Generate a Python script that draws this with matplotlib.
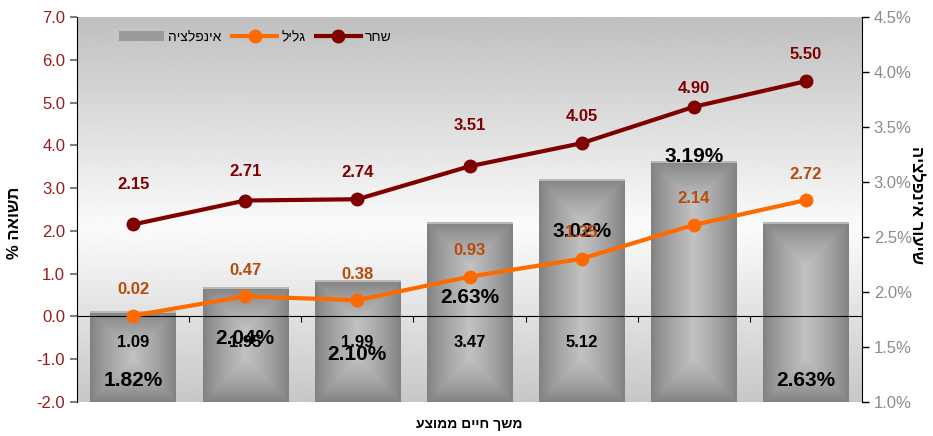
import numpy as np
import matplotlib
matplotlib.use('Agg')
import matplotlib.pyplot as plt
from matplotlib.patches import Patch
from matplotlib.lines import Line2D

plt.rcParams['font.family'] = ['Liberation Sans', 'DejaVu Sans']


def rtl(s):
    # matplotlib has no bidi, so hebrew has to be flipped by hand
    return s[::-1]


durations = ['1.09', '1.95', '1.99', '3.47', '5.12', '', '']
inflation = [1.82, 2.04, 2.10, 2.63, 3.02, 3.19, 2.63]
shahar = [2.15, 2.71, 2.74, 3.51, 4.05, 4.90, 5.50]
galil = [0.02, 0.47, 0.38, 0.93, 1.35, 2.14, 2.72]

# label placement as in the original excel chart
infl_label_y = [1.20, 1.58, 1.43, 1.95, 2.55, 3.23, 1.20]
shahar_label_dy = [40, 29, 27, 41, 27, 18, 27]
galil_label_dy = 26

RED = '#800000'
ORANGE = '#ff6a00'

fig = plt.figure(figsize=(9.33, 4.36), dpi=100)
ax = fig.add_axes([77 / 933, 34 / 436, 785 / 933, 385 / 436])
ax2 = ax.twinx()
ax.set_zorder(ax2.get_zorder() + 1)
ax.patch.set_visible(False)

x = np.arange(len(inflation))
ymin2, ymax2 = 1.0, 4.5

# background gradient: grey top, almost white in the middle, grey bottom
yy = np.linspace(0, 1, 300)
shade = np.interp(yy, [0, 0.45, 1], [0.78, 0.985, 0.75])
ax2.imshow(shade[:, None], extent=[0, 1, 0, 1], transform=ax2.transAxes, origin='lower',
           aspect='auto', cmap='gray', vmin=0, vmax=1, zorder=0)

# bars with a rectangular "from center" gradient
w = 0.76
px_per_unit = 385 / (ymax2 - ymin2)
nx = 85
for xi, v in zip(x, inflation):
    ny = max(int(round((v - ymin2) * px_per_unit)), 2)
    cx = np.arange(nx) + 0.5
    cy = np.arange(ny) + 0.5
    dx = np.minimum(cx, nx - cx)
    dy = np.minimum(cy, ny - cy)
    d = np.clip(np.minimum(dx[None, :], dy[:, None]) / (nx / 2), 0, 1)
    img = 0.50 + 0.26 * d ** 0.8
    img[:2, :] = 0.72  # light rim on top
    ax2.imshow(img, extent=[xi - w / 2, xi + w / 2, ymin2, v], aspect='auto',
               cmap='gray', vmin=0, vmax=1, zorder=2)

for xi, v, ly in zip(x, inflation, infl_label_y):
    ax2.text(xi, ly, f'{v:.2f}%', ha='center', va='center', fontsize=15,
             fontweight='bold', color='black', zorder=4)

ax2.set_xlim(-0.5, len(x) - 0.5)
ax2.set_ylim(ymin2, ymax2)
ax2.set_yticks(np.arange(1.0, 4.51, 0.5))
ax2.set_yticklabels([f'{t:.1f}%' for t in np.arange(1.0, 4.51, 0.5)])
ax2.tick_params(axis='y', colors='black', labelcolor='#8c8c8c', labelsize=12,
                direction='out', length=5, width=1)
for s in ['top', 'bottom', 'left']:
    ax2.spines[s].set_visible(False)
ax2.spines['right'].set_color('black')

# lines
ax.plot(x, shahar, color=RED, lw=3, marker='o', ms=9, zorder=3)
ax.plot(x, galil, color=ORANGE, lw=3, marker='o', ms=9, zorder=3)
for xi, v, dy in zip(x, shahar, shahar_label_dy):
    ax.annotate(f'{v:.2f}', (xi, v), xytext=(0, dy * 0.72), textcoords='offset points',
                ha='center', va='center', fontsize=12, fontweight='bold', color=RED)
for xi, v in zip(x, galil):
    ax.annotate(f'{v:.2f}', (xi, v), xytext=(0, galil_label_dy * 0.72), textcoords='offset points',
                ha='center', va='center', fontsize=12, fontweight='bold', color='#b84a0a')

for xi, lab in zip(x, durations):
    ax.text(xi, -0.6, lab, ha='center', va='center', fontsize=12, fontweight='bold')

ax.set_xlim(-0.5, len(x) - 0.5)
ax.set_ylim(-2.0, 7.0)
ax.set_yticks(np.arange(-2, 7.01, 1.0))
ax.set_yticklabels([f'{t:.1f}' for t in np.arange(-2, 7.01, 1.0)])
ax.tick_params(axis='y', colors='#808080', labelcolor='#9b1b1b', labelsize=12,
               direction='out', length=5, width=1.5)
ax.spines['bottom'].set_position(('data', 0))
ax.spines['bottom'].set_color('black')
ax.set_xticks(np.arange(0.5, len(x) - 1, 1.0))
ax.set_xticklabels([])
ax.tick_params(axis='x', direction='out', length=4, color='black')
ax.spines['top'].set_visible(False)
ax.spines['right'].set_visible(False)
ax.spines['left'].set_color('black')

# axis titles
fig.text(15 / 933, 0.49, rtl('תשואה %'), rotation=90, ha='center', va='center',
         fontsize=12, fontweight='bold')
fig.text(916 / 933, 0.53, rtl('שיעור אינפלציה'), rotation=270, ha='center', va='center',
         fontsize=12, fontweight='bold')
fig.text(469 / 933, 12 / 436, rtl('משך חיים ממוצע'), ha='center', va='center',
         fontsize=10, fontweight='bold')

handles = [Patch(facecolor='#9a9a9a', edgecolor='none'),
           Line2D([], [], color=ORANGE, lw=3, marker='o', ms=9),
           Line2D([], [], color=RED, lw=3, marker='o', ms=9)]
labels = [rtl('אינפלציה'), rtl('גליל'), rtl('שחר')]
ax.legend(handles, labels, loc='center left', bbox_to_anchor=(0.038, 0.948), ncol=3,
          frameon=False, fontsize=10, handlelength=3.2, columnspacing=0.8, handletextpad=0.3)

fig.savefig('out.png', dpi=100)
